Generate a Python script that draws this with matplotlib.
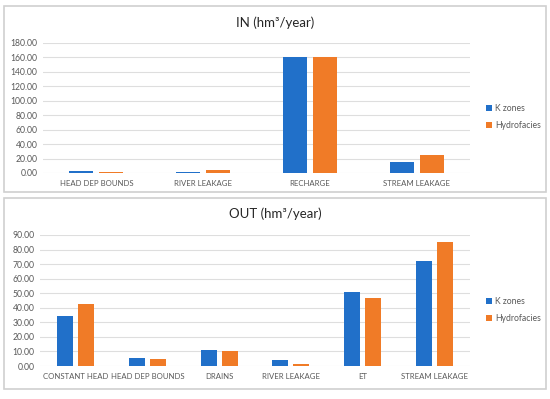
import matplotlib
matplotlib.use("Agg")
import matplotlib.pyplot as plt
from matplotlib.patches import Rectangle
import numpy as np

plt.rcParams['font.family'] = ['Lato', 'DejaVu Sans']

in_categories = ["HEAD DEP BOUNDS", "RIVER LEAKAGE", "RECHARGE", "STREAM LEAKAGE"]
in_kzones = [2.5, 0.8, 160.0, 15.0]
in_hydro = [1.5, 3.5, 160.0, 25.5]
in_ticks = [0, 20, 40, 60, 80, 100, 120, 140, 160, 180]

out_categories = ["CONSTANT HEAD", "HEAD DEP BOUNDS", "DRAINS", "RIVER LEAKAGE", "ET", "STREAM LEAKAGE"]
out_kzones = [34.5, 5.5, 11.0, 4.0, 51.0, 72.0]
out_hydro = [42.5, 5.0, 10.0, 1.5, 46.5, 85.5]
out_ticks = [0, 10, 20, 30, 40, 50, 60, 70, 80, 90]

series_names = ["K zones", "Hydrofacies"]
BLUE = "#2170C9"
ORANGE = "#F07B27"
GRID = "#DEDEDE"
TXT = "#595959"

W, H = 550, 399
fig = plt.figure(figsize=(W / 100, H / 100), dpi=100)

def px(l, t, r, b):
    return [l / W, 1 - b / H, (r - l) / W, (b - t) / H]

# panel borders
for (l, t, r, b) in [(4, 6, 546, 192), (4, 198, 546, 389)]:
    fig.add_artist(Rectangle((l / W, 1 - b / H), (r - l) / W, (b - t) / H,
                             transform=fig.transFigure, fill=False,
                             edgecolor="#D0D0D0", linewidth=1.2))

def draw(ax, cats, k, h, ticks, width, off, title, title_y):
    x = np.arange(len(cats))
    ax.bar(x - off, k, width, color=BLUE, label=series_names[0], zorder=3)
    ax.bar(x + off, h, width, color=ORANGE, label=series_names[1], zorder=3)
    ax.set_xlim(-0.5, len(cats) - 0.5)
    ax.set_ylim(0, ticks[-1])
    ax.set_yticks(ticks)
    ax.set_yticklabels([f"{t:.2f}" for t in ticks], fontsize=6.2, color=TXT)
    ax.set_xticks(x)
    ax.set_xticklabels(cats, fontsize=5.6, color=TXT)
    ax.tick_params(length=0, pad=5)
    ax.tick_params(axis='y', pad=4)
    ax.grid(axis='y', color=GRID, linewidth=0.8, zorder=0)
    for s in ax.spines.values():
        s.set_visible(False)
    ax.legend(loc='center left', bbox_to_anchor=(1.02, 0.43), frameon=False,
              fontsize=6.2, handlelength=0.7, handleheight=0.7,
              handletextpad=0.3, labelspacing=0.9, labelcolor=TXT)
    fig.text(0.5, 1 - title_y / H, title, ha='center', va='center',
             fontsize=9.5, color="#262626")

ax1 = fig.add_axes(px(43, 43, 470, 173))
draw(ax1, in_categories, in_kzones, in_hydro, in_ticks, 0.225, 0.14,
     "IN (hm³/year)", 23)

ax2 = fig.add_axes(px(40, 235, 470, 366))
draw(ax2, out_categories, out_kzones, out_hydro, out_ticks, 0.22, 0.146,
     "OUT (hm³/year)", 214)

fig.savefig("out.png", dpi=100)
